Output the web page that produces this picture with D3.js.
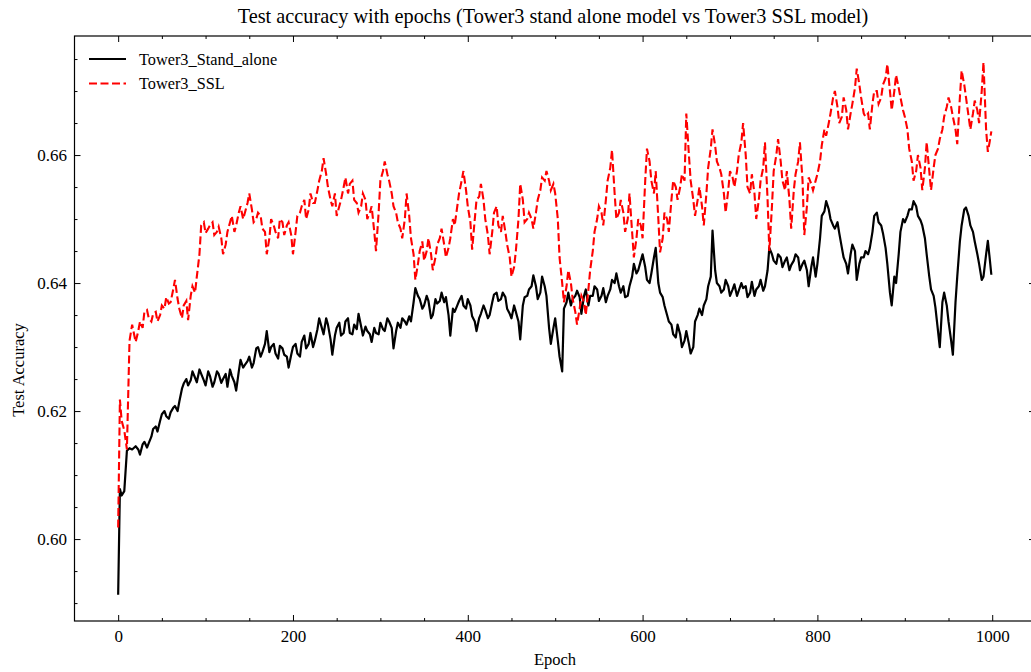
<!DOCTYPE html>
<html>
<head>
<meta charset="utf-8">
<script src="https://cdn.jsdelivr.net/npm/d3@7"></script>
<style>
  html, body { margin: 0; padding: 0; background: #fff; }
  svg { display: block; font-family: "Liberation Serif", "Times New Roman", serif; }
</style>
</head>
<body>
<svg id="chart" width="1031" height="672"></svg>
<script>
// Epochs at which the test accuracy of both models is plotted (20 per 50-epoch block)
const epochs = [
  0, 2, 4, 7, 10, 13, 16, 20, 23, 25, 28, 30, 33, 35, 38, 40, 43, 45, 48, 50,
  53, 55, 58, 60, 63, 65, 68, 70, 73, 75, 78, 80, 83, 85, 88, 90, 93, 95, 98, 100,
  103, 105, 108, 110, 113, 115, 118, 120, 123, 125, 128, 130, 133, 135, 138, 140, 143, 145, 148, 150,
  153, 155, 158, 160, 163, 165, 168, 170, 173, 175, 178, 180, 183, 185, 188, 190, 193, 195, 198, 200,
  203, 205, 208, 210, 213, 215, 218, 220, 223, 225, 228, 230, 233, 235, 238, 240, 243, 245, 248, 250,
  253, 255, 258, 260, 263, 265, 268, 270, 273, 275, 278, 280, 283, 285, 288, 290, 293, 295, 298, 300,
  303, 305, 308, 310, 313, 315, 318, 320, 323, 325, 328, 330, 333, 335, 338, 340, 343, 345, 348, 350,
  353, 355, 358, 360, 363, 365, 368, 370, 373, 375, 378, 380, 383, 385, 388, 390, 393, 395, 398, 400,
  403, 405, 408, 410, 413, 415, 418, 420, 423, 425, 428, 430, 433, 435, 438, 440, 443, 445, 448, 450,
  453, 455, 458, 460, 463, 465, 468, 470, 473, 475, 478, 480, 483, 485, 488, 490, 493, 495, 498, 500,
  503, 505, 508, 510, 513, 515, 518, 520, 523, 525, 528, 530, 533, 535, 538, 540, 543, 545, 548, 550,
  553, 555, 558, 560, 563, 565, 568, 570, 573, 575, 578, 580, 583, 585, 588, 590, 593, 595, 598, 600,
  603, 605, 608, 610, 613, 615, 618, 620, 623, 625, 628, 630, 633, 635, 638, 640, 643, 645, 648, 650,
  653, 655, 658, 660, 663, 665, 668, 670, 673, 675, 678, 680, 683, 685, 688, 690, 693, 695, 698, 700,
  703, 705, 708, 710, 713, 715, 718, 720, 723, 725, 728, 730, 733, 735, 738, 740, 743, 745, 748, 750,
  753, 755, 758, 760, 763, 765, 768, 770, 773, 775, 778, 780, 783, 785, 788, 790, 793, 795, 798, 800,
  803, 805, 808, 810, 813, 815, 818, 820, 823, 825, 828, 830, 833, 835, 838, 840, 843, 845, 848, 850,
  853, 855, 858, 860, 863, 865, 868, 870, 873, 875, 878, 880, 883, 885, 888, 890, 893, 895, 898, 900,
  903, 905, 908, 910, 913, 915, 918, 920, 923, 925, 928, 930, 933, 935, 938, 940, 943, 945, 948, 950,
  953, 955, 958, 960, 963, 965, 968, 970, 973, 975, 978, 980, 983, 985, 988, 990, 993, 995, 997, 999];

// Tower3 stand-alone model
const standAloneAcc = [
  0.5913, 0.6078, 0.6068, 0.6075, 0.6138, 0.6142, 0.6140, 0.6145, 0.6140, 0.6132, 0.6148, 0.6152, 0.6143, 0.6150, 0.6160, 0.6172, 0.6176, 0.6168, 0.6185, 0.6195,
  0.6200, 0.6192, 0.6188, 0.6198, 0.6205, 0.6208, 0.6200, 0.6215, 0.6235, 0.6243, 0.6250, 0.6240, 0.6248, 0.6262, 0.6252, 0.6245, 0.6265, 0.6258, 0.6248, 0.6240,
  0.6262, 0.6255, 0.6238, 0.6245, 0.6262, 0.6258, 0.6244, 0.6250, 0.6258, 0.6238, 0.6265, 0.6255, 0.6245, 0.6232, 0.6262, 0.6280, 0.6268, 0.6272, 0.6278, 0.6285,
  0.6268, 0.6275, 0.6298, 0.6300, 0.6285, 0.6292, 0.6305, 0.6325, 0.6292, 0.6300, 0.6305, 0.6290, 0.6282, 0.6302, 0.6298, 0.6288, 0.6285, 0.6268, 0.6288, 0.6300,
  0.6305, 0.6290, 0.6285, 0.6308, 0.6318, 0.6298, 0.6305, 0.6322, 0.6300, 0.6310, 0.6328, 0.6345, 0.6330, 0.6320, 0.6345, 0.6335, 0.6312, 0.6288, 0.6318, 0.6330,
  0.6338, 0.6318, 0.6322, 0.6340, 0.6345, 0.6322, 0.6320, 0.6335, 0.6328, 0.6352, 0.6332, 0.6318, 0.6332, 0.6325, 0.6320, 0.6308, 0.6330, 0.6322, 0.6320, 0.6338,
  0.6328, 0.6325, 0.6345, 0.6340, 0.6330, 0.6298, 0.6325, 0.6338, 0.6330, 0.6345, 0.6340, 0.6335, 0.6348, 0.6340, 0.6370, 0.6392, 0.6380, 0.6375, 0.6360, 0.6365,
  0.6380, 0.6372, 0.6345, 0.6350, 0.6375, 0.6368, 0.6372, 0.6385, 0.6370, 0.6378, 0.6350, 0.6318, 0.6360, 0.6355, 0.6365, 0.6372, 0.6380, 0.6365, 0.6360, 0.6375,
  0.6365, 0.6348, 0.6340, 0.6325, 0.6345, 0.6352, 0.6365, 0.6358, 0.6345, 0.6350, 0.6370, 0.6382, 0.6385, 0.6372, 0.6375, 0.6385, 0.6378, 0.6360, 0.6352, 0.6345,
  0.6365, 0.6355, 0.6340, 0.6312, 0.6365, 0.6378, 0.6380, 0.6390, 0.6395, 0.6412, 0.6395, 0.6375, 0.6385, 0.6410, 0.6395, 0.6380, 0.6330, 0.6305, 0.6330, 0.6345,
  0.6310, 0.6285, 0.6262, 0.6360, 0.6370, 0.6385, 0.6365, 0.6375, 0.6380, 0.6388, 0.6378, 0.6352, 0.6380, 0.6390, 0.6365, 0.6380, 0.6380, 0.6395, 0.6390, 0.6372,
  0.6380, 0.6392, 0.6370, 0.6380, 0.6390, 0.6405, 0.6400, 0.6415, 0.6395, 0.6385, 0.6395, 0.6378, 0.6380, 0.6395, 0.6410, 0.6430, 0.6415, 0.6420, 0.6435, 0.6445,
  0.6425, 0.6405, 0.6400, 0.6415, 0.6440, 0.6455, 0.6400, 0.6385, 0.6378, 0.6365, 0.6350, 0.6340, 0.6335, 0.6320, 0.6315, 0.6335, 0.6320, 0.6300, 0.6310, 0.6325,
  0.6305, 0.6290, 0.6300, 0.6340, 0.6350, 0.6360, 0.6350, 0.6365, 0.6375, 0.6395, 0.6410, 0.6482, 0.6420, 0.6400, 0.6395, 0.6385, 0.6390, 0.6405, 0.6395, 0.6380,
  0.6390, 0.6398, 0.6380, 0.6388, 0.6400, 0.6392, 0.6395, 0.6378, 0.6385, 0.6402, 0.6380, 0.6390, 0.6395, 0.6405, 0.6388, 0.6395, 0.6420, 0.6455, 0.6445, 0.6435,
  0.6430, 0.6445, 0.6440, 0.6425, 0.6435, 0.6440, 0.6420, 0.6428, 0.6435, 0.6445, 0.6440, 0.6420, 0.6430, 0.6435, 0.6420, 0.6395, 0.6425, 0.6440, 0.6410, 0.6430,
  0.6470, 0.6505, 0.6512, 0.6528, 0.6515, 0.6500, 0.6490, 0.6485, 0.6495, 0.6478, 0.6455, 0.6440, 0.6430, 0.6415, 0.6445, 0.6460, 0.6450, 0.6405, 0.6430, 0.6440,
  0.6440, 0.6450, 0.6445, 0.6455, 0.6480, 0.6505, 0.6510, 0.6495, 0.6490, 0.6478, 0.6455, 0.6430, 0.6385, 0.6365, 0.6410, 0.6400, 0.6445, 0.6480, 0.6500, 0.6495,
  0.6505, 0.6515, 0.6515, 0.6528, 0.6520, 0.6505, 0.6498, 0.6490, 0.6470, 0.6445, 0.6410, 0.6390, 0.6380, 0.6362, 0.6325, 0.6300, 0.6370, 0.6385, 0.6365, 0.6340,
  0.6310, 0.6288, 0.6370, 0.6410, 0.6465, 0.6490, 0.6515, 0.6518, 0.6505, 0.6490, 0.6480, 0.6465, 0.6445, 0.6430, 0.6405, 0.6410, 0.6445, 0.6466, 0.6440, 0.6413];

// Tower3 SSL model
const sslAcc = [
  0.6018, 0.6218, 0.6185, 0.6170, 0.6140, 0.6310, 0.6335, 0.6308, 0.6325, 0.6340, 0.6330, 0.6355, 0.6358, 0.6345, 0.6340, 0.6352, 0.6355, 0.6340, 0.6350, 0.6365,
  0.6360, 0.6378, 0.6368, 0.6370, 0.6390, 0.6405, 0.6375, 0.6360, 0.6345, 0.6365, 0.6372, 0.6342, 0.6380, 0.6395, 0.6385, 0.6410, 0.6445, 0.6490, 0.6495, 0.6478,
  0.6485, 0.6490, 0.6495, 0.6475, 0.6480, 0.6488, 0.6470, 0.6445, 0.6460, 0.6480, 0.6495, 0.6505, 0.6480, 0.6490, 0.6510, 0.6520, 0.6500, 0.6510, 0.6525, 0.6540,
  0.6515, 0.6495, 0.6500, 0.6510, 0.6505, 0.6485, 0.6480, 0.6445, 0.6470, 0.6500, 0.6490, 0.6480, 0.6470, 0.6500, 0.6495, 0.6475, 0.6490, 0.6495, 0.6475, 0.6445,
  0.6480, 0.6505, 0.6510, 0.6520, 0.6530, 0.6500, 0.6515, 0.6540, 0.6525, 0.6525, 0.6545, 0.6560, 0.6575, 0.6595, 0.6570, 0.6550, 0.6530, 0.6520, 0.6540, 0.6505,
  0.6520, 0.6530, 0.6550, 0.6565, 0.6540, 0.6555, 0.6560, 0.6530, 0.6525, 0.6510, 0.6520, 0.6540, 0.6530, 0.6500, 0.6510, 0.6520, 0.6480, 0.6450, 0.6510, 0.6560,
  0.6575, 0.6590, 0.6570, 0.6560, 0.6540, 0.6520, 0.6510, 0.6495, 0.6485, 0.6470, 0.6500, 0.6540, 0.6505, 0.6470, 0.6445, 0.6405, 0.6430, 0.6450, 0.6465, 0.6435,
  0.6450, 0.6470, 0.6445, 0.6420, 0.6440, 0.6460, 0.6470, 0.6485, 0.6460, 0.6440, 0.6455, 0.6470, 0.6500, 0.6490, 0.6520, 0.6540, 0.6560, 0.6575, 0.6545, 0.6520,
  0.6495, 0.6452, 0.6500, 0.6530, 0.6535, 0.6555, 0.6530, 0.6500, 0.6475, 0.6445, 0.6480, 0.6510, 0.6520, 0.6490, 0.6480, 0.6505, 0.6480, 0.6460, 0.6440, 0.6410,
  0.6425, 0.6450, 0.6500, 0.6555, 0.6530, 0.6495, 0.6500, 0.6510, 0.6500, 0.6485, 0.6510, 0.6530, 0.6545, 0.6565, 0.6560, 0.6575, 0.6560, 0.6545, 0.6555, 0.6540,
  0.6500, 0.6440, 0.6400, 0.6370, 0.6395, 0.6420, 0.6400, 0.6375, 0.6355, 0.6335, 0.6360, 0.6380, 0.6370, 0.6350, 0.6390, 0.6420, 0.6450, 0.6480, 0.6500, 0.6520,
  0.6510, 0.6490, 0.6530, 0.6560, 0.6580, 0.6608, 0.6540, 0.6500, 0.6510, 0.6530, 0.6510, 0.6480, 0.6500, 0.6540, 0.6480, 0.6440, 0.6470, 0.6500, 0.6490, 0.6470,
  0.6560, 0.6610, 0.6590, 0.6560, 0.6540, 0.6575, 0.6500, 0.6448, 0.6470, 0.6510, 0.6500, 0.6480, 0.6530, 0.6560, 0.6550, 0.6530, 0.6550, 0.6570, 0.6560, 0.6665,
  0.6600, 0.6560, 0.6530, 0.6505, 0.6530, 0.6550, 0.6520, 0.6490, 0.6540, 0.6580, 0.6610, 0.6640, 0.6615, 0.6590, 0.6580, 0.6570, 0.6540, 0.6510, 0.6545, 0.6575,
  0.6565, 0.6550, 0.6575, 0.6600, 0.6620, 0.6650, 0.6600, 0.6550, 0.6540, 0.6570, 0.6540, 0.6500, 0.6530, 0.6560, 0.6580, 0.6620, 0.6530, 0.6450, 0.6520, 0.6575,
  0.6600, 0.6625, 0.6590, 0.6560, 0.6545, 0.6575, 0.6530, 0.6485, 0.6545, 0.6570, 0.6590, 0.6620, 0.6560, 0.6475, 0.6520, 0.6565, 0.6555, 0.6545, 0.6560, 0.6570,
  0.6590, 0.6615, 0.6640, 0.6630, 0.6650, 0.6665, 0.6690, 0.6700, 0.6675, 0.6650, 0.6660, 0.6690, 0.6670, 0.6640, 0.6665, 0.6680, 0.6705, 0.6735, 0.6710, 0.6690,
  0.6665, 0.6660, 0.6665, 0.6640, 0.6680, 0.6700, 0.6700, 0.6680, 0.6690, 0.6710, 0.6720, 0.6742, 0.6700, 0.6670, 0.6700, 0.6725, 0.6705, 0.6690, 0.6670, 0.6660,
  0.6640, 0.6610, 0.6590, 0.6560, 0.6575, 0.6600, 0.6580, 0.6545, 0.6580, 0.6620, 0.6575, 0.6545, 0.6580, 0.6600, 0.6610, 0.6625, 0.6640, 0.6660, 0.6675, 0.6690,
  0.6675, 0.6660, 0.6640, 0.6617, 0.6690, 0.6732, 0.6710, 0.6690, 0.6660, 0.6640, 0.6665, 0.6685, 0.6670, 0.6650, 0.6700, 0.6745, 0.6640, 0.6605, 0.6620, 0.6637];

const seriesNames = ["Tower3_Stand_alone", "Tower3_SSL"];
const seriesColors = ["#000000", "#ff0000"];
const xTicks = [0, 200, 400, 600, 800, 1000];
const yTicks = [0.60, 0.62, 0.64, 0.66];
const xLimits = [-49.95, 1048.95];
const yLimits = [0.5872, 0.6786];

const svg = d3.select("#chart");
const plot = { left: 74.5, right: 1035, top: 36, bottom: 621 };

const x = d3.scaleLinear().domain(xLimits).range([plot.left, plot.right]);
const y = d3.scaleLinear().domain(yLimits).range([plot.bottom, plot.top]);

const xMinor = d3.range(0, 1001, 50).filter(v => !xTicks.includes(v));
const yMinor = d3.range(0.59, 0.6751, 0.005).map(v => +v.toFixed(3))
  .filter(v => !yTicks.some(t => Math.abs(t - v) < 1e-9));

function styleAxis(g) {
  g.select(".domain").remove();
  g.selectAll("line").attr("stroke", "#000").attr("stroke-width", 1);
  g.selectAll("text").attr("fill", "#000").attr("font-size", 17)
    .attr("font-family", '"Liberation Serif", "Times New Roman", serif');
}

// Major and minor ticks, pointing inward on all four sides
svg.append("g").attr("transform", `translate(0,${plot.bottom})`)
  .call(d3.axisBottom(x).tickValues(xTicks).tickFormat(d3.format("d")).tickSize(-6).tickPadding(9))
  .call(styleAxis);
svg.append("g").attr("transform", `translate(0,${plot.bottom})`)
  .call(d3.axisBottom(x).tickValues(xMinor).tickFormat("").tickSize(-3)).call(styleAxis);
svg.append("g").attr("transform", `translate(0,${plot.top})`)
  .call(d3.axisTop(x).tickValues(xTicks).tickFormat("").tickSize(-6)).call(styleAxis);
svg.append("g").attr("transform", `translate(0,${plot.top})`)
  .call(d3.axisTop(x).tickValues(xMinor).tickFormat("").tickSize(-3)).call(styleAxis);

svg.append("g").attr("transform", `translate(${plot.left},0)`)
  .call(d3.axisLeft(y).tickValues(yTicks).tickFormat(d3.format(".2f")).tickSize(-6).tickPadding(7.5))
  .call(styleAxis);
svg.append("g").attr("transform", `translate(${plot.left},0)`)
  .call(d3.axisLeft(y).tickValues(yMinor).tickFormat("").tickSize(-3)).call(styleAxis);
svg.append("g").attr("transform", `translate(${plot.right},0)`)
  .call(d3.axisRight(y).tickValues(yTicks).tickFormat("").tickSize(-6)).call(styleAxis);
svg.append("g").attr("transform", `translate(${plot.right},0)`)
  .call(d3.axisRight(y).tickValues(yMinor).tickFormat("").tickSize(-3)).call(styleAxis);

// Frame
svg.append("rect")
  .attr("x", plot.left).attr("y", plot.top)
  .attr("width", plot.right - plot.left).attr("height", plot.bottom - plot.top)
  .attr("fill", "none").attr("stroke", "#000").attr("stroke-width", 1.2);

// Accuracy curves
const line = d3.line().x((d, i) => x(epochs[i])).y(d => y(d));
svg.append("path").datum(standAloneAcc)
  .attr("d", line).attr("fill", "none")
  .attr("stroke", seriesColors[0]).attr("stroke-width", 2.2).attr("stroke-linejoin", "round");
svg.append("path").datum(sslAcc)
  .attr("d", line).attr("fill", "none")
  .attr("stroke", seriesColors[1]).attr("stroke-width", 2.1).attr("stroke-dasharray", "8,3.5");

// Legend
const legend = svg.append("g").attr("transform", "translate(89,59)");
seriesNames.forEach((name, i) => {
  const row = legend.append("g").attr("transform", `translate(0,${i * 24.5})`);
  row.append("line").attr("x1", 0).attr("x2", 37).attr("y1", 0).attr("y2", 0)
    .attr("stroke", seriesColors[i]).attr("stroke-width", 2)
    .attr("stroke-dasharray", i === 1 ? "8,3.5" : null);
  row.append("text").attr("x", 50).attr("y", 5.5)
    .attr("font-size", 16.3).attr("fill", "#000").text(name);
});

// Titles
svg.append("text").attr("x", 553).attr("y", 23).attr("text-anchor", "middle")
  .attr("font-size", 20.3).attr("fill", "#000")
  .text("Test accuracy with epochs (Tower3 stand alone model vs Tower3 SSL model)");
svg.append("text").attr("x", 555).attr("y", 665).attr("text-anchor", "middle")
  .attr("font-size", 16.5).attr("fill", "#000").text("Epoch");
svg.append("text").attr("transform", "translate(24,370) rotate(-90)").attr("text-anchor", "middle")
  .attr("font-size", 16.5).attr("fill", "#000").text("Test Accuracy");
</script>
</body>
</html>
